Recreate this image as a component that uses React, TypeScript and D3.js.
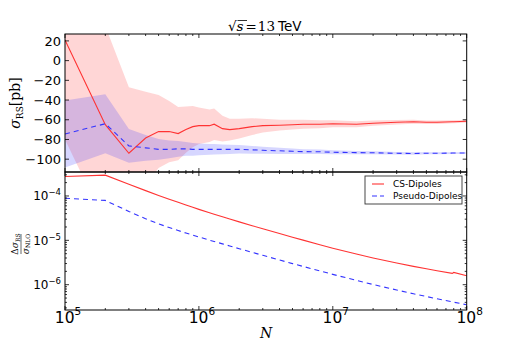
import React from "react";
import * as d3 from "d3";

// sample points (number of phase-space points)
const N = [1e5, 2e5, 3e5, 4e5, 5e5, 6e5, 7e5, 8e5, 9e5, 1e6, 1.2e6, 1.3e6, 1.5e6, 1.7e6, 2e6, 2.5e6, 3e6, 4e6, 5e6, 6e6, 8e6, 1e7, 1.5e7, 2e7, 3e7, 4e7, 5e7, 6e7, 7.8e7, 8e7, 1e8];

// top panel: sigma_RS [pb] and its MC error
const csSigma = [21, -65, -94, -78.5, -72, -72, -74, -70, -67, -66, -66, -64.5, -69, -70, -69, -67, -66, -65.5, -65, -64.5, -64.5, -64, -64.5, -63.5, -62.5, -62, -62.5, -62.5, -62, -62, -61.5];
const csErr = [101, 100, 67, 47, 37, 31, 27, 23.5, 21, 18.5, 16.5, 16, 13, 11, 10, 8.5, 7, 5.5, 5, 4.5, 4, 3.5, 3, 2.7, 2.3, 2, 1.8, 1.7, 1.5, 1.5, 1.3];
const pdSigma = [-74.5, -64, -86.5, -88.5, -90, -90, -89.5, -89.5, -90, -90, -90, -90, -90, -90, -90, -90.5, -91, -91.5, -92, -92.3, -92.5, -93, -93.3, -93.5, -94, -94.2, -94, -94, -93.8, -93.8, -93.8];
const pdErr = [34, 30, 17, 13, 10.5, 9, 8, 7, 6.5, 6, 5.5, 5.3, 5, 4.7, 4.3, 4, 3.6, 3.2, 2.8, 2.5, 2.2, 2, 1.7, 1.5, 1.3, 1.2, 1.1, 1.0, 0.9, 0.9, 0.8];

// bottom panel: relative error
const csRel = [2.75e-4, 2.95e-4, 1.83e-4, 1.32e-4, 1.03e-4, 8.45e-5, 7.18e-5, 6.25e-5, 5.55e-5, 4.99e-5, 4.2e-5, 3.89e-5, 3.4e-5, 3.03e-5, 2.61e-5, 2.14e-5, 1.82e-5, 1.42e-5, 1.17e-5, 1.01e-5, 7.94e-6, 6.64e-6, 4.9e-6, 4.0e-6, 3.08e-6, 2.59e-6, 2.28e-6, 2.07e-6, 1.8e-6, 1.89e-6, 1.59e-6];
const pdRel = [8.91e-5, 7.94e-5, 4.47e-5, 3.07e-5, 2.36e-5, 1.94e-5, 1.66e-5, 1.46e-5, 1.31e-5, 1.19e-5, 1.01e-5, 9.42e-6, 8.32e-6, 7.46e-6, 6.49e-6, 5.36e-6, 4.59e-6, 3.61e-6, 2.99e-6, 2.58e-6, 2.04e-6, 1.71e-6, 1.25e-6, 1.01e-6, 7.59e-7, 6.25e-7, 5.41e-7, 4.82e-7, 4.1e-7, 4.04e-7, 3.53e-7];

const sigmaTicks = [-100, -80, -60, -40, -20, 0, 20];
const legendLabels = ["CS-Dipoles", "Pseudo-Dipoles"];

const RED = "#ff3333";
const BLUE = "#3333ff";
const SANS = "DejaVu Sans";
const SERIF = "DejaVu Serif";

const L = 65, R = 466.7, T = 34, M = 172, B = 310;

export default function App() {
  const x = d3.scaleLog().domain([1e5, 1e8]).range([L, R]);
  const yTop = d3.scaleLinear().domain([-113, 27]).range([M, T]);
  const yBot = d3.scaleLog().domain([2.69e-7, 3.47e-4]).range([B, M]);

  const band = (vals: number[], err: number[]) =>
    d3.area<number>()
      .x((d, i) => x(N[i]))
      .y0((d, i) => yTop(vals[i] - err[i]))
      .y1((d, i) => yTop(vals[i] + err[i]))(vals);
  const lineTop = (vals: number[]) =>
    d3.line<number>().x((d, i) => x(N[i])).y(d => yTop(d))(vals);
  const lineBot = (vals: number[]) =>
    d3.line<number>().x((d, i) => x(N[i])).y(d => yBot(d))(vals);

  const xt = x.ticks();
  const isMajor = (v: number) => Math.abs(Math.log10(v) - Math.round(Math.log10(v))) < 1e-9;
  const yb = yBot.ticks().filter(v => v >= yBot.domain()[0] && v <= yBot.domain()[1]);

  const tk = "#000";
  const ticks: JSX.Element[] = [];
  xt.forEach((v, i) => {
    const len = isMajor(v) ? 4 : 2;
    const px = x(v);
    [[T, 1], [M, -1], [M, 1], [B, -1]].forEach(([y0, dir], j) => {
      ticks.push(<line key={`xt${i}-${j}`} x1={px} x2={px} y1={y0} y2={y0 + dir * len} stroke={tk} strokeWidth={0.8} />);
    });
  });
  sigmaTicks.forEach((v, i) => {
    const py = yTop(v);
    ticks.push(<line key={`st${i}l`} x1={L} x2={L + 4} y1={py} y2={py} stroke={tk} strokeWidth={0.8} />);
    ticks.push(<line key={`st${i}r`} x1={R} x2={R - 4} y1={py} y2={py} stroke={tk} strokeWidth={0.8} />);
  });
  yb.forEach((v, i) => {
    const py = yBot(v);
    const len = isMajor(v) ? 4 : 2;
    ticks.push(<line key={`yb${i}l`} x1={L} x2={L + len} y1={py} y2={py} stroke={tk} strokeWidth={0.8} />);
    ticks.push(<line key={`yb${i}r`} x1={R} x2={R - len} y1={py} y2={py} stroke={tk} strokeWidth={0.8} />);
  });

  return (
    <svg width={519} height={345} style={{ position: "absolute", left: 0, top: 0, background: "#fff" }}>
      <defs>
        <clipPath id="clipTop"><rect x={L} y={T} width={R - L} height={M - T} /></clipPath>
        <clipPath id="clipBot"><rect x={L} y={M} width={R - L} height={B - M} /></clipPath>
      </defs>

      {/* title */}
      <text x={228} y={31} fontSize={13.5}>
        <tspan fontFamily={SERIF}>√</tspan>
        <tspan fontFamily={SERIF} fontStyle="italic">s</tspan>
        <tspan fontFamily={SERIF} dx={2}>=</tspan>
        <tspan fontFamily={SERIF} dx={1}>13</tspan>
        <tspan fontFamily={SANS} dx={3}>TeV</tspan>
      </text>
      <line x1={237.5} x2={247} y1={20.5} y2={20.5} stroke="#000" strokeWidth={0.8} />

      {/* top panel */}
      <g clipPath="url(#clipTop)">
        <path d={band(csSigma, csErr) ?? ""} fill={RED} fillOpacity={0.2} />
        <path d={band(pdSigma, pdErr) ?? ""} fill={BLUE} fillOpacity={0.2} />
        <path d={lineTop(csSigma) ?? ""} fill="none" stroke={RED} strokeWidth={1.1} />
        <path d={lineTop(pdSigma) ?? ""} fill="none" stroke={BLUE} strokeWidth={1.1} strokeDasharray="5,4" />
      </g>

      {/* bottom panel */}
      <g clipPath="url(#clipBot)">
        <path d={lineBot(csRel) ?? ""} fill="none" stroke={RED} strokeWidth={1.1} />
        <path d={lineBot(pdRel) ?? ""} fill="none" stroke={BLUE} strokeWidth={1.1} strokeDasharray="5,4" />
      </g>

      {ticks}
      <rect x={L} y={T} width={R - L} height={M - T} fill="none" stroke="#000" strokeWidth={1} />
      <rect x={L} y={M} width={R - L} height={B - M} fill="none" stroke="#000" strokeWidth={1} />

      {/* top y tick labels */}
      {sigmaTicks.map(v => (
        <text key={v} x={61} y={yTop(v)} dy="0.36em" textAnchor="end" fontFamily={SANS} fontSize={13}>
          {v < 0 ? `\u2212${-v}` : v}
        </text>
      ))}

      {/* bottom y tick labels */}
      {yb.filter(isMajor).map(v => (
        <text key={v} x={61} y={yBot(v) + 4.5} textAnchor="end" fontFamily={SANS} fontSize={12}>
          10<tspan dy={-5} fontSize={8.5}>{`\u2212${Math.round(-Math.log10(v))}`}</tspan>
        </text>
      ))}

      {/* x tick labels */}
      {xt.filter(isMajor).map(v => (
        <text key={v} x={x(v) + 3} y={323} textAnchor="middle" fontFamily={SANS} fontSize={15.5}>
          10<tspan dy={-8} fontSize={10.5}>{Math.round(Math.log10(v))}</tspan>
        </text>
      ))}

      {/* axis labels */}
      <text x={266} y={338} textAnchor="middle" fontFamily={SERIF} fontStyle="italic" fontSize={14}>N</text>
      <text transform={`translate(20,103) rotate(-90)`} textAnchor="middle" fontFamily={SERIF} fontSize={14}>
        <tspan fontStyle="italic">σ</tspan>
        <tspan fontSize={9} dy={3}>RS</tspan>
        <tspan dy={-3}>[pb]</tspan>
      </text>
      <g transform="translate(21,244) rotate(-90)" fontFamily={SERIF} fontSize={9}>
        <text x={0} y={-3} textAnchor="middle">
          Δ<tspan fontStyle="italic">σ</tspan><tspan fontSize={6} dy={1.8}>RS</tspan>
        </text>
        <line x1={-10} x2={10} y1={0} y2={0} stroke="#000" strokeWidth={0.6} />
        <text x={0} y={7.5} textAnchor="middle">
          <tspan fontStyle="italic">σ</tspan><tspan fontSize={6} dy={1.8}>NLO</tspan>
        </text>
      </g>

      {/* legend */}
      <g>
        <rect x={365} y={176} width={97} height={28} fill="#fff" stroke="#333" strokeWidth={0.9} />
        {legendLabels.map((lab, i) => (
          <g key={lab}>
            <line x1={372} x2={384} y1={184 + i * 12} y2={184 + i * 12} stroke={i === 0 ? RED : BLUE}
              strokeWidth={1.1} strokeDasharray={i === 0 ? undefined : "5,3"} />
            <text x={393} y={184 + i * 12} dy="0.35em" fontFamily={SANS} fontSize={9}>{lab}</text>
          </g>
        ))}
      </g>
    </svg>
  );
}
